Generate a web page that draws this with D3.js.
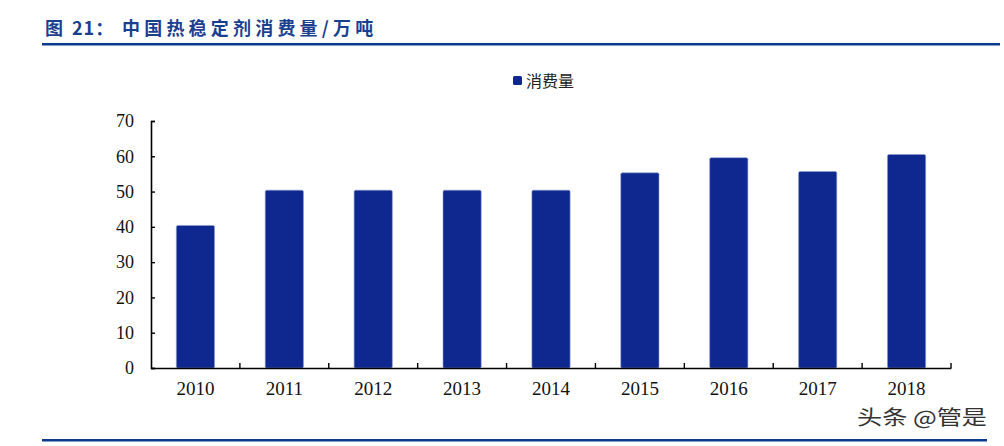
<!DOCTYPE html>
<html>
<head>
<meta charset="utf-8">
<script src="https://cdn.jsdelivr.net/npm/d3@7"></script>
<style>
  body { margin: 0; background: #fff; }
  svg { display: block; }
</style>
</head>
<body>
<svg id="chart"></svg>
<script>
// chart data
const years = ["2010", "2011", "2012", "2013", "2014", "2015", "2016", "2017", "2018"];
const consumption = [40.4, 50.4, 50.4, 50.4, 50.4, 55.3, 59.6, 55.7, 60.5];
const yTicks = [0, 10, 20, 30, 40, 50, 60, 70];
const seriesName = "消费量";
const titleParts = ["图", "21：", "中国热稳定剂消费量/万吨"];

const width = 1004, height = 446;
const barColor = "#0f2890";
const lineColor = "#0b3a8e";

const svg = d3.select("#chart").attr("width", width).attr("height", height);

// title (figure number, then caption) and the two rules
const titleX = [45, 72, 122];
svg.selectAll("text.title")
  .data(titleParts)
  .enter()
  .append("text")
  .attr("class", "title")
  .attr("x", (d, i) => titleX[i])
  .attr("y", 35)
  .attr("fill", "#1b3f8f")
  .attr("font-family", "Noto Sans CJK SC")
  .attr("font-weight", "bold")
  .attr("font-size", 18)
  .attr("letter-spacing", (d, i) => (i === 2 ? 4.2 : 1))
  .text(d => d);

svg.append("rect").attr("x", 42).attr("y", 43).attr("width", 958).attr("height", 2.5).attr("fill", lineColor);
svg.append("rect").attr("x", 42).attr("y", 439).attr("width", 945).attr("height", 2.5).attr("fill", lineColor);

// scales
const x = d3.scaleBand()
  .domain(years)
  .range([151, 951])
  .paddingInner(0.57)
  .paddingOuter(0.285);

const y = d3.scaleLinear()
  .domain([0, 70])
  .range([368, 121]);

// bars
svg.selectAll("rect.bar")
  .data(years)
  .enter()
  .append("rect")
  .attr("class", "bar")
  .attr("x", d => x(d))
  .attr("y", (d, i) => y(consumption[i]))
  .attr("width", x.bandwidth())
  .attr("height", (d, i) => y(0) - y(consumption[i]))
  .attr("rx", 1.5)
  .attr("fill", barColor)
  .attr("stroke", "#8d9ccc")
  .attr("stroke-width", 0.6);

// y axis (ticks pointing inward)
const yAxis = svg.append("g")
  .attr("transform", "translate(151,0)")
  .call(d3.axisLeft(y).tickValues(yTicks).tickSize(-4).tickPadding(17));
yAxis.select(".domain").attr("stroke", "#000").attr("stroke-width", 1.6);
yAxis.selectAll(".tick line").attr("stroke", "#000").attr("stroke-width", 1.4);
yAxis.selectAll("text")
  .attr("font-family", "Liberation Serif")
  .attr("font-size", 18)
  .attr("fill", "#111");

// x axis: labels under bars, ticks at category boundaries
const xAxis = svg.append("g")
  .attr("transform", "translate(0,368)")
  .call(d3.axisBottom(x).tickSize(0).tickPadding(14).tickSizeOuter(0));
xAxis.select(".domain").attr("stroke", "#000").attr("stroke-width", 1.6);
xAxis.selectAll("text")
  .attr("font-family", "Liberation Serif")
  .attr("font-size", 19)
  .attr("fill", "#111");

const gap = (x.step() - x.bandwidth()) / 2;
const bounds = years.map(d => x(d) - gap).concat([x.range()[1]]);
xAxis.selectAll("line.bound")
  .data(bounds.slice(1))
  .enter()
  .append("line")
  .attr("class", "bound")
  .attr("x1", d => d)
  .attr("x2", d => d)
  .attr("y1", 0)
  .attr("y2", -5)
  .attr("stroke", "#000")
  .attr("stroke-width", 1.4);

// legend
const legend = svg.append("g").attr("transform", "translate(513,76)");
legend.append("rect")
  .attr("width", 9).attr("height", 9).attr("rx", 1.5)
  .attr("fill", barColor);
legend.append("text")
  .attr("x", 13).attr("y", 10.5)
  .attr("font-family", "Noto Sans CJK SC")
  .attr("font-size", 16)
  .attr("fill", "#222")
  .text(seriesName);

// watermark
svg.append("text")
  .attr("x", 857)
  .attr("y", 425)
  .attr("font-family", "Noto Sans CJK SC")
  .attr("font-size", 20)
  .attr("textLength", 130)
  .attr("lengthAdjust", "spacingAndGlyphs")
  .attr("fill", "#333")
  .attr("stroke", "#fff")
  .attr("stroke-width", 2.5)
  .attr("paint-order", "stroke")
  .text("头条 @管是");
</script>
</body>
</html>
